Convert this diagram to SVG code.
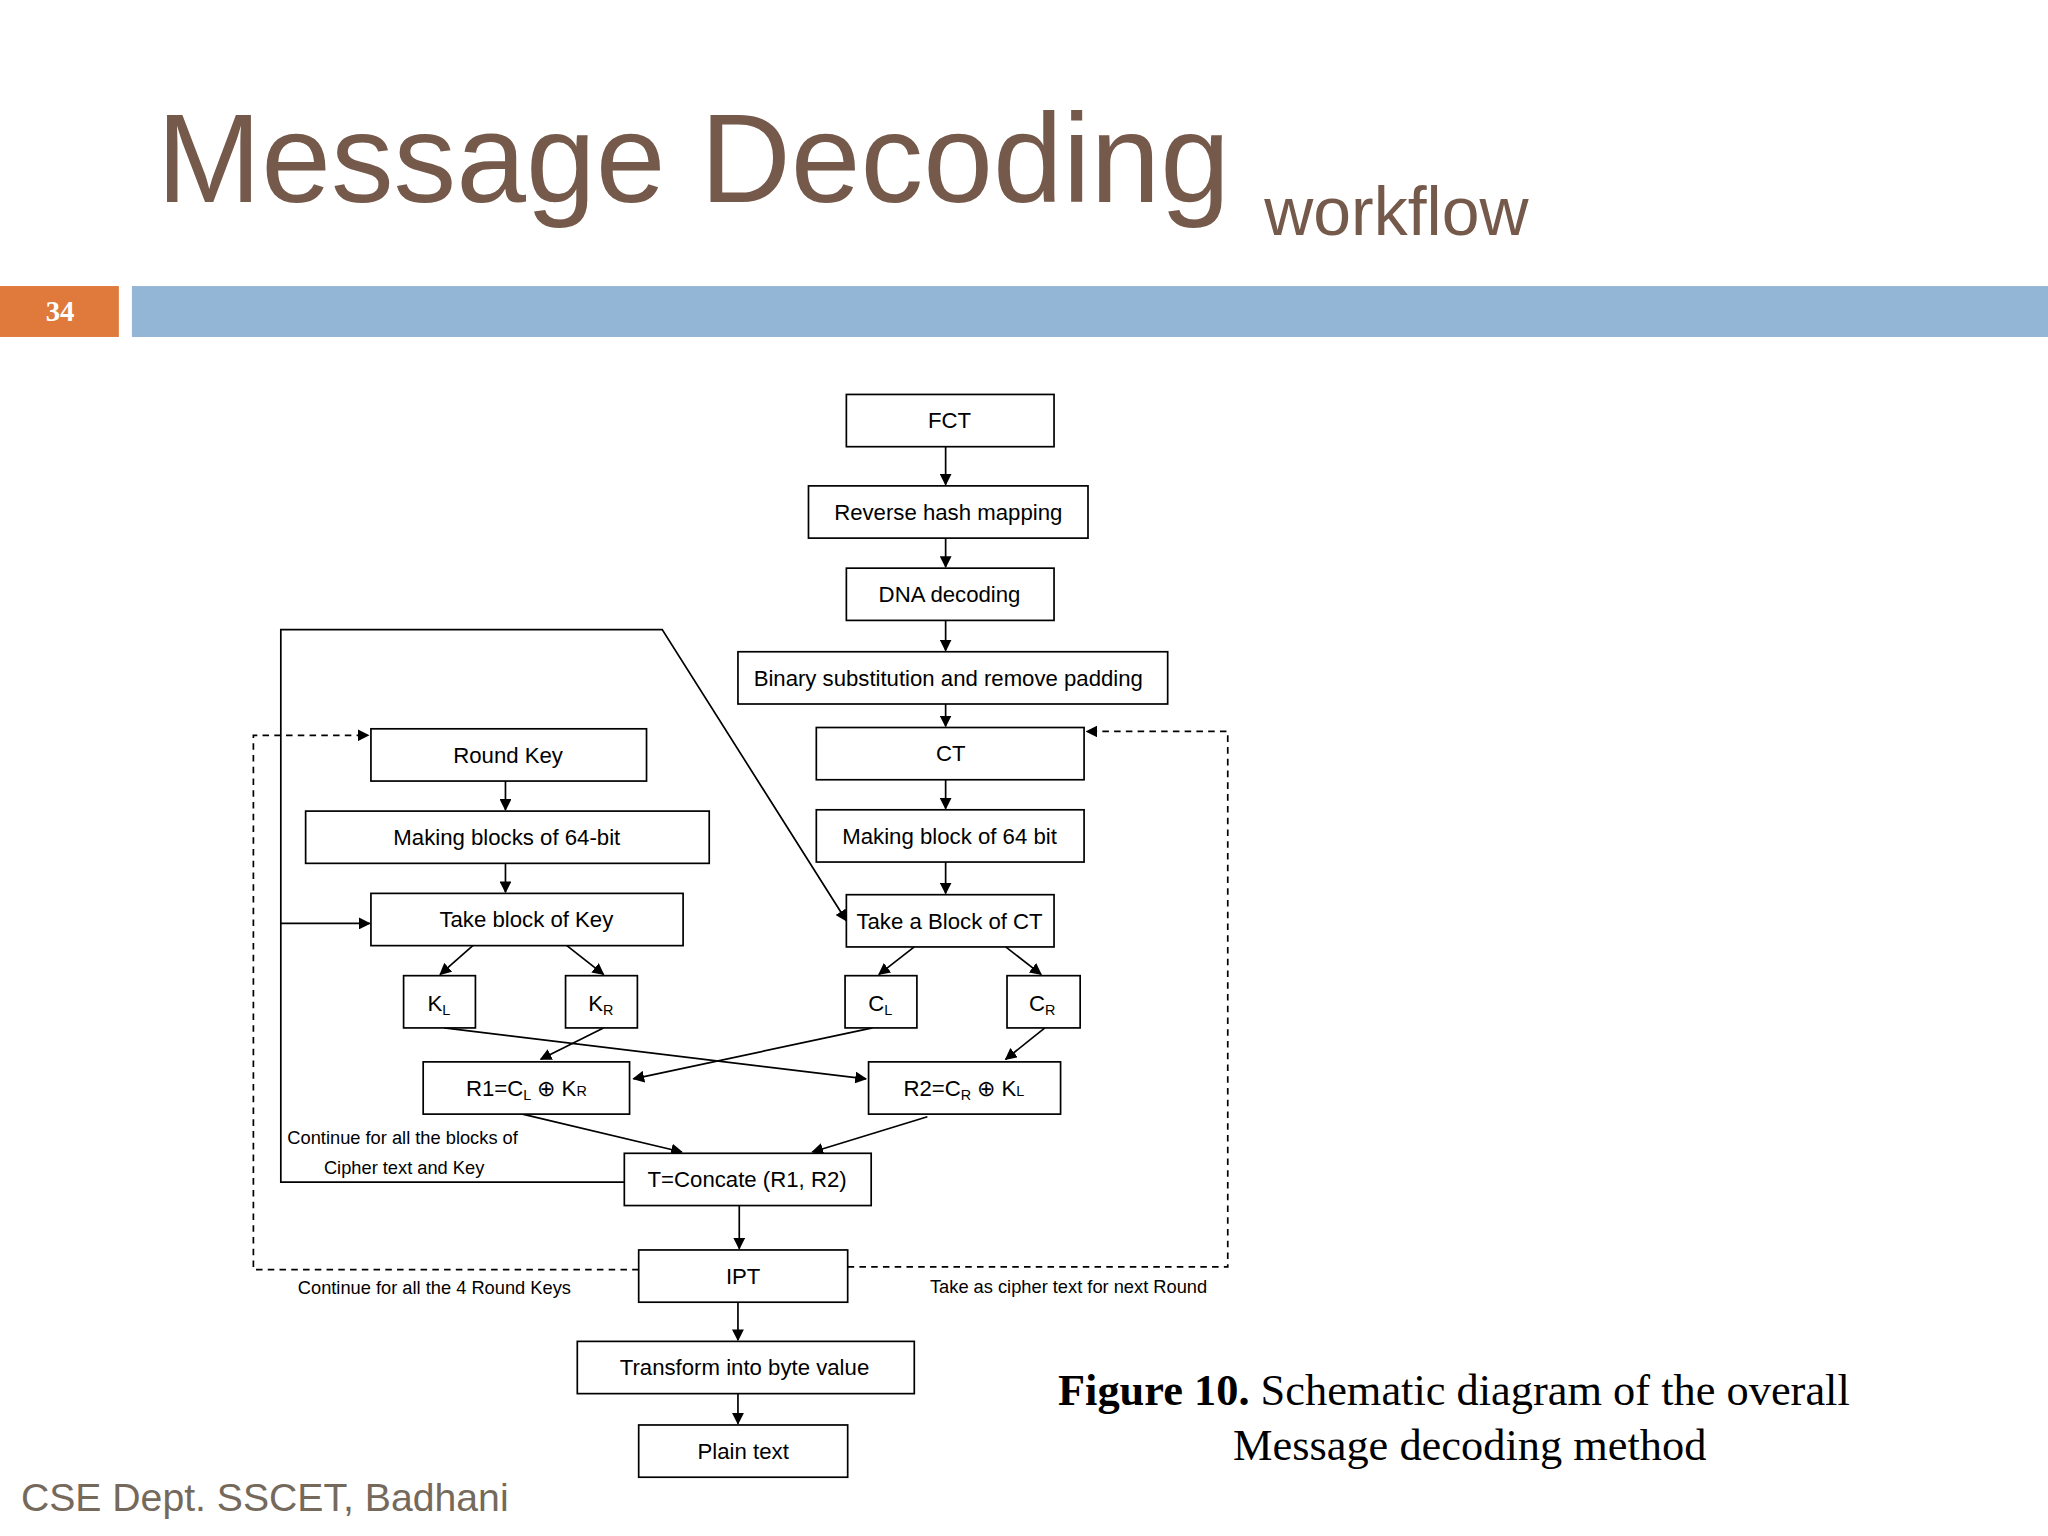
<svg xmlns="http://www.w3.org/2000/svg" width="2048" height="1536" viewBox="0 0 2048 1536">
<defs>
<marker id="ah" viewBox="0 0 10 10" refX="9" refY="5" markerWidth="7" markerHeight="7" orient="auto"><path d="M0,0 L10,5 L0,10 z" fill="#000"/></marker>
<style>
.b{fill:#fff;stroke:#000;stroke-width:1.3}
.t{font-family:"Liberation Sans",Arial,sans-serif;font-size:17px;text-anchor:middle;fill:#000}
.s{font-family:"Liberation Sans",Arial,sans-serif;font-size:14px;fill:#000}
.c{stroke:#000;stroke-width:1.3;fill:none}
.a{marker-end:url(#ah)}
.d{stroke-dasharray:5,4}
</style>
</defs>
<rect width="2048" height="1536" fill="#fff"/>
<g transform="scale(1.30612)">
<g id="header">
<text x="120" y="155" font-family="Liberation Sans,Arial,sans-serif" font-size="96" fill="#75594a">Message Decoding</text>
<text x="968" y="180" font-family="Liberation Sans,Arial,sans-serif" font-size="52" fill="#75594a">workflow</text>
<rect x="0" y="219" width="91" height="39" fill="#e07a3c"/>
<text x="46" y="246" font-family="Liberation Serif,serif" font-weight="bold" font-size="22" fill="#fff" text-anchor="middle">34</text>
<rect x="101" y="219" width="1467" height="39" fill="#94b6d6"/>
</g>
<g id="connectors">
<path class="c a" d="M724,342V371"/>
<path class="c a" d="M724,412V434"/>
<path class="c a" d="M724,475V498"/>
<path class="c a" d="M724,539V556"/>
<path class="c a" d="M724,597V619"/>
<path class="c a" d="M724,660V684"/>
<path class="c a" d="M387,598V620"/>
<path class="c a" d="M387,661V683"/>
<path class="c a" d="M362,724L337,746"/>
<path class="c a" d="M434,724L462,746"/>
<path class="c a" d="M700,725L673,746"/>
<path class="c a" d="M770,725L797,746"/>
<path class="c a" d="M462,787L414,811"/>
<path class="c a" d="M668,787L485,826"/>
<path class="c a" d="M340,787L663,826"/>
<path class="c a" d="M800,787L770,811"/>
<path class="c a" d="M400,853L522,882"/>
<path class="c a" d="M710,855L622,882"/>
<path class="c a" d="M566,923V956"/>
<path class="c a" d="M565,997V1026"/>
<path class="c a" d="M565,1067V1090"/>
<path class="c a" d="M478,905H215V482H507L648,705"/>
<path class="c a" d="M215,707H283"/>
<path class="c a d" d="M489,972H194V563H282"/>
<path class="c a d" d="M649,970H940V560H832"/>
</g>
<g id="n-fct"><rect class="b" x="648" y="302" width="159" height="40"/><text class="t" x="727" y="328">FCT</text></g>
<g id="n-rhm"><rect class="b" x="619" y="372" width="214" height="40"/><text class="t" x="726" y="398">Reverse hash mapping</text></g>
<g id="n-dna"><rect class="b" x="648" y="435" width="159" height="40"/><text class="t" x="727" y="461">DNA decoding</text></g>
<g id="n-bin"><rect class="b" x="565" y="499" width="329" height="40"/><text class="t" x="726" y="525" textLength="298" lengthAdjust="spacingAndGlyphs">Binary substitution and remove padding</text></g>
<g id="n-ct"><rect class="b" x="625" y="557" width="205" height="40"/><text class="t" x="728" y="583">CT</text></g>
<g id="n-mb"><rect class="b" x="625" y="620" width="205" height="40"/><text class="t" x="727" y="646">Making block of 64 bit</text></g>
<g id="n-tbct"><rect class="b" x="648" y="685" width="159" height="40"/><text class="t" x="727" y="711">Take a Block of CT</text></g>
<g id="n-cl"><rect class="b" x="647" y="747" width="55" height="40"/><text class="t" x="674" y="774">C<tspan font-size="11" dy="3">L</tspan></text></g>
<g id="n-cr"><rect class="b" x="771" y="747" width="56" height="40"/><text class="t" x="798" y="774">C<tspan font-size="11" dy="3">R</tspan></text></g>
<g id="n-rk"><rect class="b" x="284" y="558" width="211" height="40"/><text class="t" x="389" y="584">Round Key</text></g>
<g id="n-mbk"><rect class="b" x="234" y="621" width="309" height="40"/><text class="t" x="388" y="647">Making blocks of 64-bit</text></g>
<g id="n-tbk"><rect class="b" x="284" y="684" width="239" height="40"/><text class="t" x="403" y="710">Take block of Key</text></g>
<g id="n-kl"><rect class="b" x="309" y="747" width="55" height="40"/><text class="t" x="336" y="774">K<tspan font-size="11" dy="3">L</tspan></text></g>
<g id="n-kr"><rect class="b" x="433" y="747" width="55" height="40"/><text class="t" x="460" y="774">K<tspan font-size="11" dy="3">R</tspan></text></g>
<g id="n-r1"><rect class="b" x="324" y="813" width="158" height="40"/><text class="t" x="403" y="839">R1=C<tspan font-size="11" dy="3">L</tspan><tspan dy="-3"> ⊕ K</tspan><tspan font-size="11" dy="0">R</tspan></text></g>
<g id="n-r2"><rect class="b" x="665" y="813" width="147" height="40"/><text class="t" x="738" y="839">R2=C<tspan font-size="11" dy="3">R</tspan><tspan dy="-3"> ⊕ K</tspan><tspan font-size="11" dy="0">L</tspan></text></g>
<g id="n-t"><rect class="b" x="478" y="883" width="189" height="40"/><text class="t" x="572" y="909">T=Concate (R1, R2)</text></g>
<g id="n-ipt"><rect class="b" x="489" y="957" width="160" height="40"/><text class="t" x="569" y="983">IPT</text></g>
<g id="n-tr"><rect class="b" x="442" y="1027" width="258" height="40"/><text class="t" x="570" y="1053">Transform into byte value</text></g>
<g id="n-pt"><rect class="b" x="489" y="1091" width="160" height="40"/><text class="t" x="569" y="1117">Plain text</text></g>
<g id="labels">
<text class="s" x="220" y="876">Continue for all the blocks of</text>
<text class="s" x="248" y="899">Cipher text and Key</text>
<text class="s" x="228" y="991">Continue for all the 4 Round Keys</text>
<text class="s" x="712" y="990">Take as cipher text for next Round</text>
<text x="810" y="1076" font-family="Liberation Serif,serif" font-size="34" fill="#000"><tspan font-weight="bold">Figure 10.</tspan> Schematic  diagram  of the overall</text>
<text x="944" y="1118" font-family="Liberation Serif,serif" font-size="34" fill="#000">Message decoding method</text>
<text x="16" y="1157" font-family="Liberation Sans,Arial,sans-serif" font-size="30" fill="#75695c">CSE Dept. SSCET, Badhani</text>
</g>
</g>
</svg>
